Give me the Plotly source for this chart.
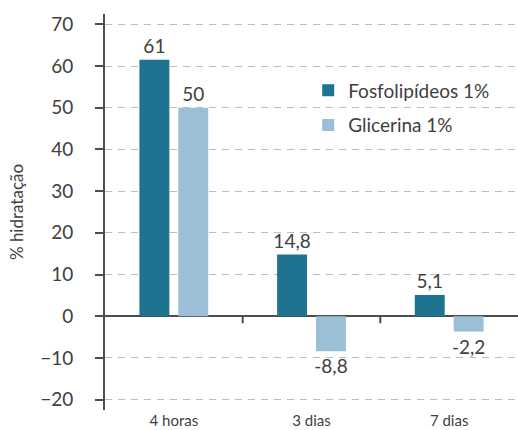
import plotly.graph_objects as go

categories = ["4 horas", "3 dias", "7 dias"]
fosfo_values = [61.5, 14.8, 5.1]
fosfo_labels = ["61", "14,8", "5,1"]
glic_values = [50.0, -8.4, -3.7]
glic_labels = ["50", "-8,8", "-2,2"]
y_ticks = [-20, -10, 0, 10, 20, 30, 40, 50, 60, 70]

FONT = "Lato, 'Open Sans', sans-serif"
TXT = "#404040"
AX = "#4d4d4d"

fig = go.Figure()
fig.add_trace(go.Bar(
    x=categories, y=fosfo_values, name="Fosfolipídeos 1%",
    marker=dict(color="#1d7390", line=dict(width=0)),
    text=fosfo_labels, textposition="outside", constraintext="none",
    textfont=dict(size=19, color=TXT, family=FONT),
    cliponaxis=False, legendgroup="a", hoverinfo="skip",
))
fig.add_trace(go.Bar(
    x=categories, y=glic_values, name="Glicerina 1%",
    marker=dict(color="#9bbfd6", line=dict(width=0)),
    text=glic_labels, textposition="outside", constraintext="none",
    textfont=dict(size=19, color=TXT, family=FONT),
    cliponaxis=False, legendgroup="b", hoverinfo="skip",
))

for xb in [0.5, 1.5]:
    fig.add_shape(type="line", xref="x", yref="y", x0=xb, x1=xb, y0=0, y1=-1.7,
                  line=dict(color=AX, width=2))

fig.update_layout(
    width=518, height=430,
    margin=dict(l=105, r=0, t=14, b=20),
    paper_bgcolor="white", plot_bgcolor="white",
    font=dict(family=FONT, color=TXT),
    barmode="group", bargap=0.435, bargroupgap=0.23,
    showlegend=True,
    legend=dict(x=0.492, y=0.855, xanchor="left", yanchor="top",
                font=dict(size=19, color=TXT, family=FONT),
                tracegroupgap=7, bgcolor="rgba(0,0,0,0)"),
    xaxis=dict(showline=False, showgrid=False, ticks="", zeroline=False,
               automargin=False,
               tickfont=dict(size=15, color=TXT, family=FONT)),
    yaxis=dict(range=[-22.5, 72.5], tickvals=y_ticks,
               automargin=False,
               showgrid=True, gridcolor="#bdbdbd", gridwidth=1, griddash="7px,6px",
               zeroline=True, zerolinecolor=AX, zerolinewidth=2,
               showline=True, linecolor=AX, linewidth=2,
               ticks="outside", ticklen=8, tickwidth=2, tickcolor=AX,
               ticklabelstandoff=18,
               tickfont=dict(size=19, color=TXT, family=FONT),
               title=dict(text="% hidratação", font=dict(size=17, color=TXT, family=FONT),
                          standoff=12)),
)

fig.write_html("out.html", config={"displayModeBar": False},
               post_script="document.body.style.margin='0';")
